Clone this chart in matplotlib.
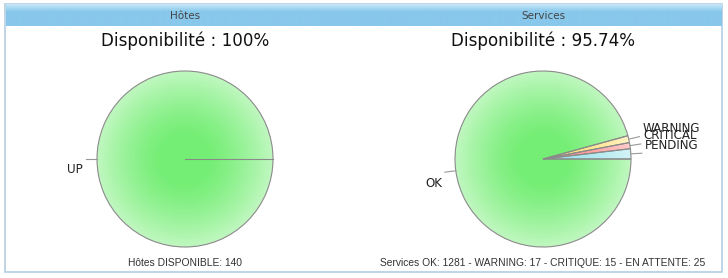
import numpy as np
import matplotlib
matplotlib.use("Agg")
import matplotlib.pyplot as plt
from matplotlib.patches import Rectangle
from matplotlib.colors import to_rgb

# Données
hotes_labels = ["UP"]
hotes_values = [140]
hotes_colors = ["#74ee74"]

services_labels = ["OK", "WARNING", "CRITICAL", "PENDING"]
services_values = [1281, 17, 15, 25]
services_colors = ["#74ee74", "#ffe27a", "#ff8f8f", "#9fe6ee"]

titres = ["Hôtes", "Services"]
dispo = ["Disponibilité : 100%", "Disponibilité : 95.74%"]
pieds = ["Hôtes DISPONIBLE: 140",
         "Services OK: 1281 - WARNING: 17 - CRITIQUE: 15 - EN ATTENTE: 25"]

W, H = 728, 278
fig = plt.figure(figsize=(W / 100, H / 100), dpi=100)
fig.patch.set_facecolor("white")

# fond : cadre + bandeau
bg = fig.add_axes([0, 0, 1, 1])
bg.set_xlim(0, W)
bg.set_ylim(H, 0)
bg.axis("off")
bg.add_patch(Rectangle((5, 4), 717, 268, facecolor="white",
                       edgecolor="#b4cde2", linewidth=1.2))
grad = np.linspace(0, 1, 22)[:, None]
top = np.array(to_rgb("#c4e6f8"))
bot = np.array(to_rgb("#88c8eb"))
t = np.clip(grad * 3.0, 0, 1)[..., None]
band = top * (1 - t) + bot * t
bg.imshow(band * np.ones((1, 2, 1)), extent=(5.6, 721.4, 26, 4.6),
          aspect="auto", zorder=2)

cx = [185, 543]
for i in range(2):
    bg.text(cx[i], 16, titres[i], ha="center", va="center", fontsize=7.5,
            color="#444444", zorder=3)
    bg.text(cx[i], 41, dispo[i], ha="center", va="center", fontsize=12.1,
            color="#111111")
    bg.text(cx[i], 263, pieds[i], ha="center", va="center", fontsize=7.4,
            family="Liberation Sans", color="#333333")

R = 88  # rayon en pixels
M = 1.45


def camembert(centre, valeurs, labels, couleurs):
    px = 2 * R * M
    ax = fig.add_axes([(centre[0] - px / 2) / W, 1 - (centre[1] + px / 2) / H,
                       px / W, px / H])
    wedges, _ = ax.pie(valeurs, colors=couleurs, startangle=0,
                       counterclock=False, radius=1,
                       wedgeprops=dict(edgecolor="#8a8a8a", linewidth=0.8))
    ax.set_xlim(-M, M)
    ax.set_ylim(-M, M)
    ax.set_aspect("equal")
    ax.axis("off")
    yy, xx = np.mgrid[-1:1:300j, -1:1:300j]
    r = np.clip(np.hypot(xx, yy), 0, 1)
    for w, c in zip(wedges, couleurs):
        base = np.array(to_rgb(c))
        k = (np.clip((r - 0.25) / 0.75, 0, 1) ** 1.3 * 0.55)[..., None]
        img = base * (1 - k) + k
        im = ax.imshow(img, extent=(-1, 1, -1, 1), origin="lower",
                       zorder=1)
        im.set_clip_path(w)
        w.set_facecolor("none")
        w.set_zorder(2)
    ax.set_xlim(-M, M)
    ax.set_ylim(-M, M)
    if len(valeurs) == 1:
        ax.plot([0, 1], [0, 0], color="#8a8a8a", lw=0.8, zorder=3)
    for w, lab in zip(wedges, labels):
        a = np.deg2rad((w.theta1 + w.theta2) / 2)
        x0, y0 = np.cos(a), np.sin(a)
        x1, y1 = x0 * (1 + 11 / R), y0 * (1 + 11 / R)
        ax.plot([x0, x1], [y0, y1], color="#999999", lw=0.8, zorder=3)
        if x1 < 0:
            ax.text(x1 - 3 / R, y1 - 11 / R, lab, ha="right", va="center",
                    fontsize=8.6, color="#222222")
        else:
            ax.text(x1 + 3 / R, y1 + 8 / R, lab, ha="left", va="center",
                    fontsize=8.6, color="#222222")


camembert((185, 159), hotes_values, hotes_labels, hotes_colors)
camembert((543, 159), services_values, services_labels, services_colors)

fig.savefig("out.png", dpi=100)
